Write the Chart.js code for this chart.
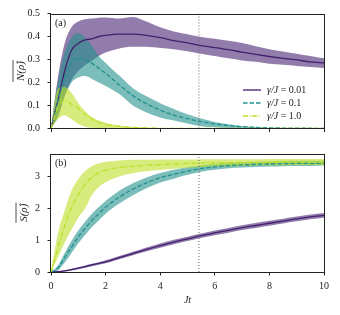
<!DOCTYPE html>
<html><head><meta charset="utf-8">
<script src="https://cdn.jsdelivr.net/npm/chart.js@4/dist/chart.umd.min.js"></script>
<style>
html,body{margin:0;padding:0;background:#fff;width:340px;height:315px;overflow:hidden}
canvas{position:absolute;left:0}
#c1{top:0}
#c2{top:140px}
</style></head><body>
<canvas id="c1" width="340" height="142"></canvas>
<canvas id="c2" width="340" height="175"></canvas>
<script>
// ---------- data ----------
const T = [0, 0.25, 0.5, 0.75, 1, 1.25, 1.5, 1.75, 2, 2.5, 3, 3.5, 4, 4.5, 5, 5.5, 6, 6.5, 7, 7.5, 8, 8.5, 9, 9.5, 10];

// panel (a): N(rho)
const nMean001 = [0, 0.12, 0.25, 0.34, 0.37, 0.385, 0.39, 0.40, 0.405, 0.41, 0.41, 0.405, 0.395, 0.382, 0.372, 0.36, 0.352, 0.343, 0.332, 0.322, 0.313, 0.305, 0.298, 0.29, 0.285];
const nHi001   = [0, 0.22, 0.37, 0.44, 0.465, 0.475, 0.478, 0.482, 0.483, 0.478, 0.485, 0.465, 0.44, 0.422, 0.41, 0.398, 0.39, 0.382, 0.372, 0.358, 0.345, 0.335, 0.325, 0.315, 0.305];
const nLo001   = [0, 0.05, 0.14, 0.21, 0.25, 0.275, 0.295, 0.315, 0.33, 0.348, 0.355, 0.355, 0.35, 0.345, 0.336, 0.325, 0.315, 0.305, 0.296, 0.29, 0.282, 0.277, 0.272, 0.267, 0.263];

const nMean01 = [0, 0.12, 0.22, 0.285, 0.305, 0.30, 0.283, 0.262, 0.24, 0.19, 0.143, 0.107, 0.08, 0.058, 0.043, 0.03, 0.02, 0.013, 0.008, 0.005, 0.003, 0.002, 0.001, 0.001, 0];
const nHi01   = [0, 0.2, 0.33, 0.395, 0.415, 0.395, 0.36, 0.315, 0.285, 0.23, 0.175, 0.14, 0.11, 0.085, 0.062, 0.043, 0.028, 0.018, 0.01, 0.006, 0.003, 0.002, 0.001, 0, 0];
const nLo01   = [0, 0.05, 0.14, 0.2, 0.222, 0.228, 0.215, 0.2, 0.185, 0.15, 0.1, 0.07, 0.048, 0.035, 0.022, 0.01, 0.005, 0.002, 0.001, 0, 0, 0, 0, 0, 0];

const nMean1 = [0, 0.095, 0.12, 0.105, 0.087, 0.062, 0.04, 0.027, 0.018, 0.01, 0.005, 0.003, 0.001, 0, 0, 0, 0, 0, 0, 0, 0, 0, 0, 0, 0];
const nHi1   = [0, 0.172, 0.18, 0.155, 0.11, 0.075, 0.05, 0.035, 0.025, 0.012, 0.006, 0.003, 0.002, 0.001, 0, 0, 0, 0, 0, 0, 0, 0, 0, 0, 0];
const nLo1   = [0, 0.04, 0.058, 0.04, 0.02, 0.008, 0.003, 0.001, 0, 0, 0, 0, 0, 0, 0, 0, 0, 0, 0, 0, 0, 0, 0, 0, 0];

// panel (b): S(rho)
const sMean001 = [0, 0.01, 0.035, 0.075, 0.12, 0.17, 0.22, 0.27, 0.32, 0.45, 0.58, 0.71, 0.83, 0.94, 1.04, 1.14, 1.23, 1.31, 1.39, 1.46, 1.53, 1.6, 1.67, 1.73, 1.78];
const sHi001   = [0, 0.02, 0.055, 0.1, 0.15, 0.205, 0.26, 0.31, 0.365, 0.5, 0.635, 0.77, 0.895, 1.01, 1.11, 1.21, 1.305, 1.385, 1.465, 1.535, 1.605, 1.675, 1.745, 1.805, 1.855];
const sLo001   = [0, 0.002, 0.015, 0.05, 0.09, 0.135, 0.18, 0.23, 0.275, 0.4, 0.525, 0.65, 0.765, 0.87, 0.97, 1.07, 1.155, 1.235, 1.315, 1.385, 1.455, 1.525, 1.595, 1.655, 1.705];

const sMean01 = [0, 0.12, 0.45, 0.78, 1.1, 1.37, 1.62, 1.83, 2.03, 2.35, 2.6, 2.8, 2.96, 3.07, 3.17, 3.25, 3.3, 3.34, 3.36, 3.38, 3.39, 3.4, 3.41, 3.41, 3.42];
const sHi01   = [0, 0.2, 0.6, 0.97, 1.3, 1.58, 1.83, 2.04, 2.23, 2.55, 2.79, 2.97, 3.11, 3.21, 3.29, 3.35, 3.39, 3.42, 3.44, 3.46, 3.47, 3.48, 3.49, 3.49, 3.5];
const sLo01   = [0, 0.05, 0.3, 0.6, 0.9, 1.16, 1.41, 1.62, 1.83, 2.15, 2.41, 2.63, 2.81, 2.93, 3.05, 3.15, 3.21, 3.26, 3.28, 3.3, 3.31, 3.32, 3.33, 3.33, 3.34];

const sMean1 = [0, 0.75, 1.45, 2.03, 2.42, 2.75, 2.98, 3.12, 3.2, 3.28, 3.32, 3.35, 3.37, 3.39, 3.41, 3.42, 3.43, 3.43, 3.44, 3.44, 3.44, 3.45, 3.45, 3.45, 3.45];
const sHi1   = [0, 1.2, 1.92, 2.55, 2.92, 3.17, 3.33, 3.41, 3.46, 3.5, 3.52, 3.52, 3.53, 3.53, 3.53, 3.54, 3.54, 3.54, 3.54, 3.54, 3.55, 3.55, 3.55, 3.55, 3.55];
const sLo1   = [0, 0.45, 0.92, 1.33, 1.7, 2.0, 2.42, 2.67, 2.82, 3.0, 3.1, 3.16, 3.2, 3.24, 3.27, 3.29, 3.31, 3.32, 3.33, 3.34, 3.35, 3.35, 3.36, 3.36, 3.36];

const seriesLabels = ['γ/J = 0.01', 'γ/J = 0.1', 'γ/J = 1.0'];
const xTicks  = [0, 2, 4, 6, 8, 10];
const yTicksN = [0, 0.1, 0.2, 0.3, 0.4, 0.5];
const yTicksS = [0, 1, 2, 3];
const xRange  = [0, 10];
const yRangeN = [0, 0.5];
const yRangeS = [0, 3.72];
const markerT = [5.42];
const panelLabels = ['(a)', '(b)'];
const yTitles = ['N(ρ̂)', 'S(ρ̂)'];
const xTitle = 'Jt';

// ---------- styling ----------
const FONT = 'Liberation Serif';
const INK = '#222';
const lineCols = ['#44206e', '#21918c', '#bddf26'];
const bandCols = ['rgba(72,36,117,0.6)', 'rgba(33,145,140,0.6)', 'rgba(189,223,38,0.6)'];
const dashes = [[], [4.5, 2], [5, 1.5, 1, 1.5]];

function pts(ys) { return T.map((t, i) => ({x: t, y: ys[i]})); }
function series(k, hi, lo, mean) {
  const common = {pointRadius: 0, cubicInterpolationMode: 'monotone'};
  return [
    Object.assign({label: '', data: pts(hi), borderWidth: 0, borderColor: 'rgba(0,0,0,0)', fill: false, order: 12 - k}, common),
    Object.assign({label: '', data: pts(lo), borderWidth: 0, borderColor: 'rgba(0,0,0,0)', fill: '-1', backgroundColor: bandCols[k], order: 12 - k}, common),
    Object.assign({label: seriesLabels[k], data: pts(mean), borderWidth: 1.3, borderColor: lineCols[k], borderDash: dashes[k], fill: false, order: 4 - k, isMean: true}, common)
  ];
}
function marker(yr) {
  return {label: '', data: [{x: markerT[0], y: yr[0]}, {x: markerT[0], y: yr[1]}], borderColor: '#666', borderWidth: 1, borderDash: [1, 2], pointRadius: 0, fill: false, order: 0};
}

const decor = {
  id: 'decor',
  afterDraw(chart, args, o) {
    const ctx = chart.ctx, a = chart.chartArea;
    ctx.save();
    // frame
    ctx.strokeStyle = INK; ctx.lineWidth = 1;
    ctx.strokeRect(Math.round(a.left) - 0.5, Math.round(a.top) + 0.5, Math.round(a.right - a.left) + 1, Math.round(a.bottom - a.top) - 1);
    // panel label
    ctx.fillStyle = INK; ctx.font = '10px "' + FONT + '"';
    ctx.textAlign = 'left'; ctx.textBaseline = 'middle';
    ctx.fillText(o.panel, a.left + 4, a.top + 10);
    // y title with overline
    ctx.translate(o.yx, (a.top + a.bottom) / 2);
    ctx.rotate(-Math.PI / 2);
    ctx.font = 'italic 11px "' + FONT + '"';
    ctx.textAlign = 'center'; ctx.textBaseline = 'middle';
    ctx.fillText(o.ytitle, 0, 0);
    const w = ctx.measureText(o.ytitle).width;
    ctx.beginPath(); ctx.lineWidth = 0.8;
    ctx.moveTo(-w / 2 - 1, -8); ctx.lineTo(w / 2 + 1, -8); ctx.stroke();
    ctx.restore();
    if (o.legend) {
      ctx.save();
      const means = chart.data.datasets.filter(d => d.isMean);
      means.forEach((d, i) => {
        const y = a.bottom - 38.5 + i * 13;
        const x0 = a.right - 81;
        ctx.strokeStyle = d.borderColor; ctx.lineWidth = 1.3; ctx.setLineDash(d.borderDash || []);
        ctx.beginPath(); ctx.moveTo(x0, y); ctx.lineTo(x0 + 18, y); ctx.stroke();
        ctx.setLineDash([]);
        const parts = d.label.split(' = ');
        ctx.fillStyle = INK; ctx.textBaseline = 'middle'; ctx.textAlign = 'left';
        ctx.font = 'italic 10px "' + FONT + '"';
        let x = x0 + 24;
        ctx.fillText(parts[0], x, y);
        x += ctx.measureText(parts[0]).width;
        ctx.font = '10px "' + FONT + '"';
        ctx.fillText(' = ' + parts[1], x, y);
      });
      ctx.restore();
    }
  }
};

function makeScales(showX, yTicks, yr, yFmt, xHeight) {
  return {
    x: {
      type: 'linear', min: xRange[0], max: xRange[1],
      afterBuildTicks: s => { s.ticks = xTicks.map(v => ({value: v})); },
      afterFit: s => { s.height = xHeight; },
      ticks: {display: showX, color: INK, font: {family: FONT, size: 10}, padding: 4.5, maxRotation: 0},
      grid: {display: true, drawOnChartArea: false, drawTicks: true, tickLength: 3.5, color: INK, lineWidth: 1},
      border: {display: false},
      title: showX ? {display: true, text: xTitle, color: INK, font: {family: FONT, size: 10, style: 'italic'}, padding: {top: 0, bottom: 9}} : {display: false}
    },
    y: {
      type: 'linear', min: yr[0], max: yr[1],
      afterBuildTicks: s => { s.ticks = yTicks.map(v => ({value: v})); },
      afterFit: s => { s.width = 51; },
      ticks: {color: INK, font: {family: FONT, size: 10}, padding: 7.5, callback: yFmt},
      grid: {display: true, drawOnChartArea: false, drawTicks: true, tickLength: 3.5, color: INK, lineWidth: 1},
      border: {display: false}
    }
  };
}

const baseOpts = {
  responsive: false, animation: false, devicePixelRatio: 1,
  plugins: {legend: {display: false}, tooltip: {enabled: false}},
  elements: {line: {tension: 0}}
};

new Chart(document.getElementById('c1'), {
  type: 'line',
  data: {datasets: [].concat(
    series(0, nHi001, nLo001, nMean001),
    series(1, nHi01, nLo01, nMean01),
    series(2, nHi1, nLo1, nMean1),
    [marker(yRangeN)])},
  options: Object.assign({}, baseOpts, {
    layout: {padding: {top: 12, right: 16, left: 0, bottom: 0}},
    scales: makeScales(false, yTicksN, yRangeN, v => v.toFixed(1), 8),
    plugins: Object.assign({}, baseOpts.plugins, {decor: {panel: panelLabels[0], ytitle: yTitles[0], yx: 21, legend: true}})
  }),
  plugins: [decor]
});

new Chart(document.getElementById('c2'), {
  type: 'line',
  data: {datasets: [].concat(
    series(0, sHi001, sLo001, sMean001),
    series(1, sHi01, sLo01, sMean01),
    series(2, sHi1, sLo1, sMean1),
    [marker(yRangeS)])},
  options: Object.assign({}, baseOpts, {
    layout: {padding: {top: 9, right: 16, left: 0, bottom: 0}},
    scales: makeScales(true, yTicksS, yRangeS, v => String(v), 43),
    plugins: Object.assign({}, baseOpts.plugins, {decor: {panel: panelLabels[1], ytitle: yTitles[1], yx: 24, legend: false}})
  }),
  plugins: [decor]
});
</script>
</body></html>
